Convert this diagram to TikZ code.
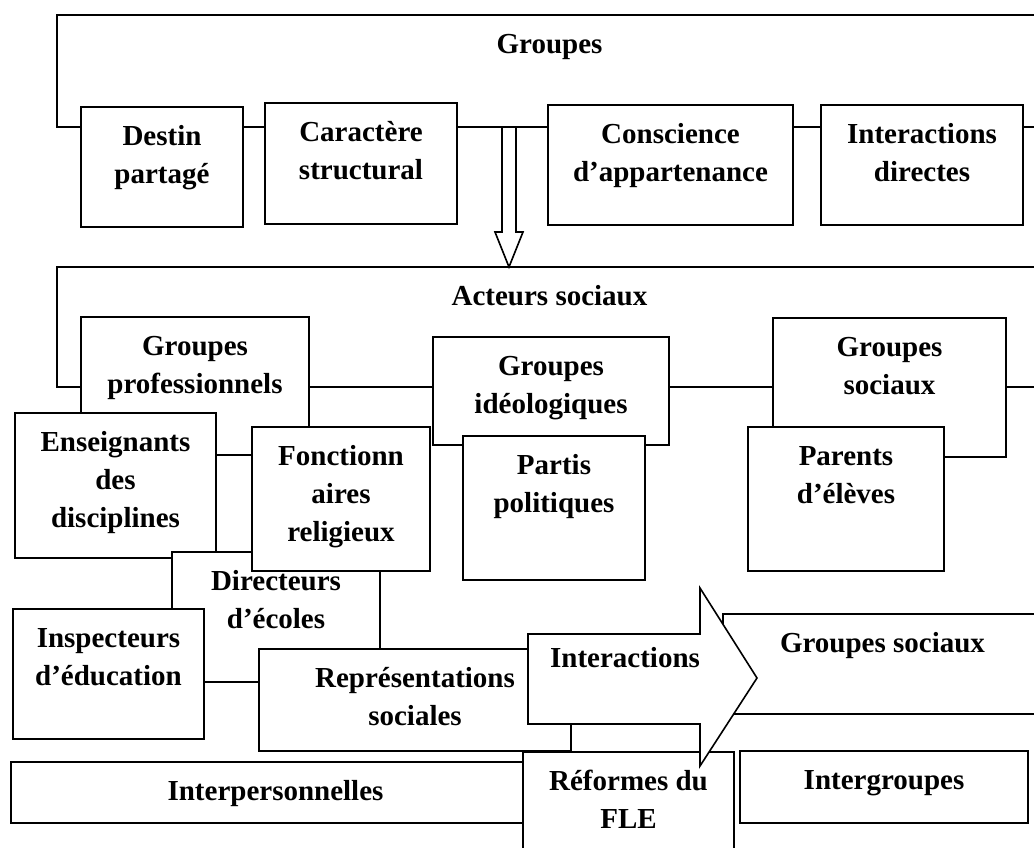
\documentclass[tikz,border=0pt]{standalone}
\usepackage{fontspec}
\setmainfont{Liberation Serif}

% box with its label: name, x1, y1, x2, y2, text (coordinates in px, y downwards)
\newcommand\labelbox[6]{%
  \node[boxframe, minimum width={(#4-#2)*1pt}, minimum height={(#5-#3)*1pt}] (#1) at (#2,#3) {};
  \node[lbl, yshift=-11.4pt] (#1-t) at (#1.north) {\strut #6};
}

\begin{document}
\begin{tikzpicture}[x=1pt,y=-1pt,
  boxframe/.style={draw, line width=1.6pt, fill=white, rectangle, inner sep=0pt, outer sep=0pt, anchor=north west},
  lbl/.style={font=\fontsize{29}{38}\selectfont\bfseries, align=center, inner sep=0pt, anchor=north},
  blockarrow/.style={draw, line width=1.6pt, fill=white, line join=miter}]
\useasboundingbox (0,0) rectangle (1034,847);
\clip (0,0) rectangle (1034,847);

% ---- Groupes ----
\labelbox{groupes}{57}{15}{1042}{127}{Groupes}
\labelbox{destin}{81}{107}{243}{227}{Destin\\partagé}
\labelbox{caractere}{265}{103}{457}{224}{Caractère\\structural}
\labelbox{conscience}{548}{105}{793}{225}{Conscience\\d’appartenance}
\labelbox{directes}{821}{105}{1023}{225}{Interactions\\directes}

% ---- Acteurs sociaux ----
\labelbox{acteurs}{57}{267}{1042}{387}{Acteurs sociaux}
\draw[blockarrow] (502,128) -- (502,232) -- (495,232) -- (509,267) -- (523,232) -- (516,232) -- (516,128);

\labelbox{gpro}{81}{317}{309}{455}{Groupes\\professionnels}
\labelbox{gideo}{433}{337}{669}{445}{Groupes\\idéologiques}
\labelbox{gsoc}{773}{318}{1006}{457}{Groupes\\sociaux}

\labelbox{enseignants}{15}{413}{216}{558}{Enseignants\\des\\disciplines}
\labelbox{partis}{463}{436}{645}{580}{Partis\\politiques}
\labelbox{parents}{748}{427}{944}{571}{Parents\\d’élèves}

\labelbox{directeurs}{172}{552}{380}{682}{Directeurs\\d’écoles}
\labelbox{fonction}{252}{427}{430}{571}{Fonctionn\\aires\\religieux}

\labelbox{inspecteurs}{13}{609}{204}{739}{Inspecteurs\\d’éducation}
\labelbox{representations}{259}{649}{571}{751}{Représentations\\sociales}

% ---- Interactions ----
\labelbox{interpers}{11}{762}{540}{823}{Interpersonnelles}
\labelbox{gsocb}{723}{614}{1042}{714}{Groupes sociaux}
\labelbox{intergroupes}{740}{751}{1028}{823}{Intergroupes}
\labelbox{reformes}{523}{752}{734}{880}{Réformes du\\FLE}

\draw[blockarrow] (528,634) -- (700,634) -- (700,588) -- (757,678) -- (700,766) -- (700,724) -- (528,724) -- cycle;
\node[lbl, anchor=base] (interactions) at (625,667) {Interactions};

\end{tikzpicture}
\end{document}
